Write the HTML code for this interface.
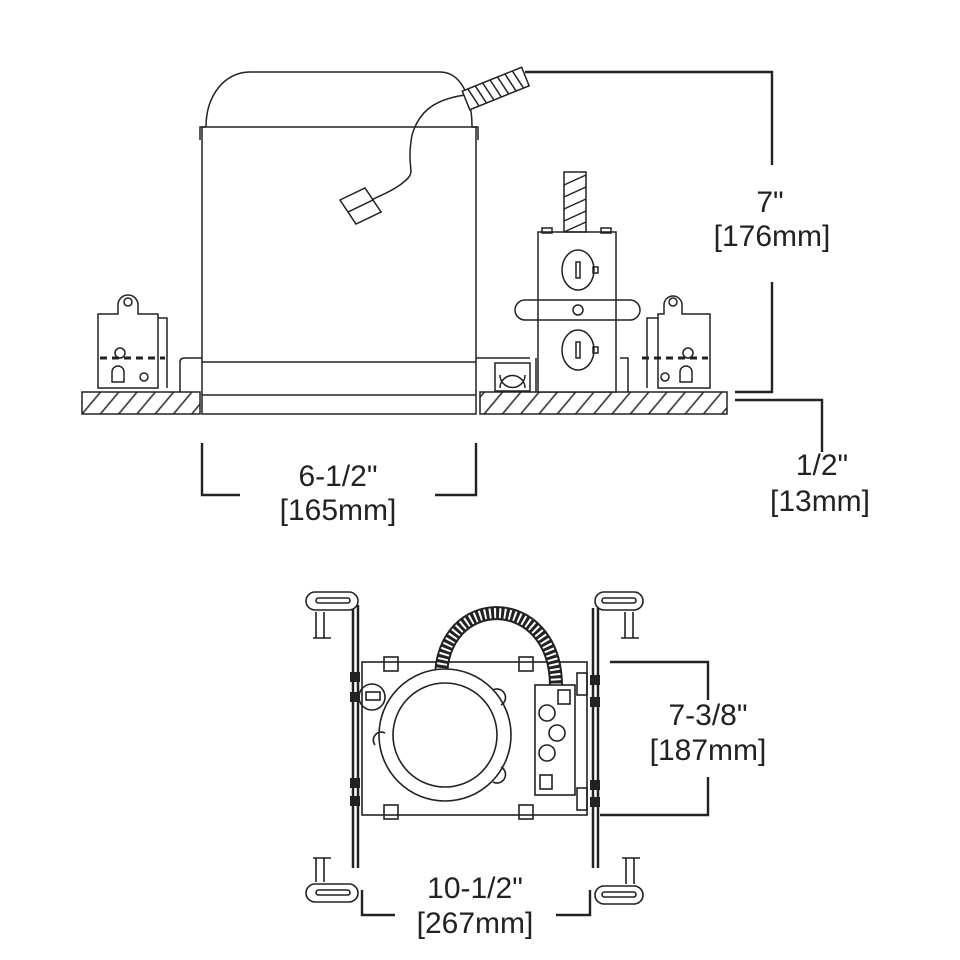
<!DOCTYPE html>
<html><head><meta charset="utf-8"><style>
html,body{margin:0;padding:0;background:#fff;width:960px;height:960px;overflow:hidden}
svg{display:block}
text{font-family:"Liberation Sans",sans-serif;font-size:30px;fill:#222;text-anchor:middle}
</style></head><body>
<svg width="960" height="960" viewBox="0 0 960 960" xmlns="http://www.w3.org/2000/svg">
<defs>
<pattern id="h" patternUnits="userSpaceOnUse" width="14" height="14" patternTransform="rotate(40)">
<line x1="7" y1="0" x2="7" y2="14" stroke="#333" stroke-width="1.6"/>
</pattern>
</defs>
<g fill="none" stroke="#222" stroke-width="1.5">
<rect x="82" y="392" width="118" height="22" fill="url(#h)"/>
<rect x="480" y="392" width="247" height="22" fill="url(#h)"/>
<rect x="202" y="127" width="274" height="287" fill="#fff"/>
<line x1="202" y1="362" x2="476" y2="362"/>
<line x1="202" y1="395" x2="476" y2="395"/>
<path d="M200 140 V127 H206 M478 140 V127 H472"/>
<path d="M206 127 C206 95 225 72 250 72 H440 C460 72 472 95 472 127"/>
<path d="M465 95 C430 100 418 115 412 135 C405 175 420 170 400 185 C385 195 380 195 372 200"/>
<path d="M340 200 L365 188 L373 200 L348 212 Z M348 212 L373 200 L381 212 L356 224 Z"/>
<g transform="translate(492,90) rotate(-22)">
<rect x="-28" y="-10" width="64" height="20" fill="#fff"/>
<path d="M-22 -10 L-18 10 M-14 -10 L-10 10 M-6 -10 L-2 10 M2 -10 L6 10 M10 -10 L14 10 M18 -10 L22 10 M26 -10 L30 10"/>
</g>
<rect x="538" y="232" width="78" height="160" fill="#fff"/>
<rect x="542" y="228" width="10" height="5"/><rect x="601" y="228" width="10" height="5"/>
<rect x="564" y="172" width="22" height="60"/>
<path d="M564 185 L586 175 M564 197 L586 187 M564 209 L586 199 M564 221 L586 211 M564 232 L586 222"/>
<ellipse cx="578" cy="270" rx="16" ry="20"/><rect x="576" y="262" width="4" height="16"/>
<rect x="593" y="267" width="5" height="6"/>
<ellipse cx="578" cy="350" rx="16" ry="20"/><rect x="576" y="342" width="4" height="16"/>
<rect x="593" y="347" width="5" height="6"/>
<path d="M525 300 H630 A10 10 0 0 1 630 320 H525 A10 10 0 0 1 525 300 Z"/>
<circle cx="578" cy="310" r="5"/>
<path d="M476 358 H530 M536 358 V392 M620 358 H628 V392"/>
<rect x="495" y="363" width="35" height="28"/>
<path d="M500 375 A7 7 0 0 0 525 375 M500 388 A7 7 0 0 1 525 388"/>
<path d="M98 388 V314 H118 V305 A8 8 0 0 1 138 305 V314 H158 V388 Z" fill="#fff"/>
<circle cx="128" cy="302" r="4"/>
<path d="M158 318 H167 V388"/>
<circle cx="120" cy="353" r="5"/>
<path d="M112 382 V372 A6 6 0 0 1 124 372 V382 Z"/>
<circle cx="144" cy="377" r="4"/>
<path d="M180 392 V362 Q180 358 185 358 H202"/>
<path d="M658 388 V314 H664 V305 A9 9 0 0 1 682 305 V314 H710 V388 Z" fill="#fff"/>
<circle cx="673" cy="302" r="4"/>
<path d="M658 318 H647 V388"/>
<circle cx="688" cy="353" r="5"/>
<path d="M680 382 V372 A6 6 0 0 1 692 372 V382 Z"/>
<circle cx="665" cy="377" r="4"/>
</g>
<g stroke="#222" stroke-width="3" stroke-dasharray="7 5" fill="none">
<line x1="100" y1="358" x2="165" y2="358"/>
<line x1="642" y1="358" x2="708" y2="358"/>
</g>
<g fill="none" stroke="#222" stroke-width="2.4">
<path d="M525 72 H772 V165 M772 282 V392 H735"/>
<path d="M735 400 H822 V452"/>
<path d="M202 443 V495 H240 M435 495 H476 V443"/>
<path d="M610 662 H708 V700 M708 777 V815 H600"/>
<path d="M362 890 V915 H395 M556 915 H590 V890"/>
</g>
<text x="770" y="212">7"</text>
<text x="772" y="246">[176mm]</text>
<text x="822" y="475">1/2"</text>
<text x="820" y="511">[13mm]</text>
<text x="338" y="486">6-1/2"</text>
<text x="338" y="520">[165mm]</text>
<text x="708" y="725">7-3/8"</text>
<text x="708" y="760">[187mm]</text>
<text x="475" y="898">10-1/2"</text>
<text x="475" y="933">[267mm]</text>
<g fill="none" stroke="#222" stroke-width="1.6">
<rect x="362" y="662" width="225" height="153"/>
<path d="M441 680 C440 590 555 590 556 685" stroke-width="14"/>
<path d="M441 680 C440 590 555 590 556 685" stroke="#fff" stroke-width="10" stroke-dasharray="2 3"/>
<circle cx="445" cy="735" r="66" fill="#fff"/>
<circle cx="445" cy="735" r="52"/>
<path d="M493 690 A8 8 0 0 1 501 705 M493 782 A8 8 0 0 0 501 767 M375 745 A8 8 0 0 1 385 733"/>
<circle cx="372" cy="697" r="13"/>
<rect x="366" y="692" width="14" height="8"/>
<rect x="535" y="685" width="40" height="110" fill="#fff"/>
<circle cx="547" cy="713" r="8"/><circle cx="557" cy="733" r="8"/><circle cx="547" cy="753" r="8"/>
<rect x="540" y="775" width="12" height="14"/><rect x="558" y="690" width="12" height="14"/>
<rect x="577" y="673" width="10" height="22"/><rect x="577" y="788" width="10" height="22"/>
<rect x="384" y="657" width="14" height="14"/><rect x="519" y="657" width="14" height="14"/>
<rect x="384" y="805" width="14" height="14"/><rect x="519" y="805" width="14" height="14"/>
<path d="M353 605 V868 M358 605 V868" stroke-width="2.5"/>
<path d="M593 608 V868 M598 608 V868" stroke-width="2.5"/>
<!-- clips -->
<rect x="306" y="592" width="52" height="18" rx="9" fill="#fff"/>
<rect x="316" y="598" width="34" height="5" rx="2.5"/>
<path d="M316 612 V638 M324 612 V638 M313 638 H331"/>
<rect x="595" y="592" width="48" height="18" rx="9" fill="#fff"/>
<rect x="602" y="598" width="34" height="5" rx="2.5"/>
<path d="M625 612 V638 M633 612 V638 M621 638 H639"/>
<rect x="306" y="884" width="52" height="18" rx="9" fill="#fff"/>
<rect x="316" y="890" width="34" height="5" rx="2.5"/>
<path d="M316 858 V882 M324 858 V882 M313 858 H331"/>
<rect x="595" y="886" width="48" height="18" rx="9" fill="#fff"/>
<rect x="602" y="892" width="34" height="5" rx="2.5"/>
<path d="M626 858 V884 M634 858 V884 M622 858 H640"/>
</g>
<g fill="#222">
<rect x="350" y="672" width="10" height="10"/><rect x="350" y="692" width="10" height="10"/>
<rect x="350" y="778" width="10" height="10"/><rect x="350" y="796" width="10" height="10"/>
<rect x="590" y="675" width="10" height="10"/><rect x="590" y="697" width="10" height="10"/>
<rect x="590" y="780" width="10" height="10"/><rect x="590" y="797" width="10" height="10"/>
</g>
</svg>
</body></html>
